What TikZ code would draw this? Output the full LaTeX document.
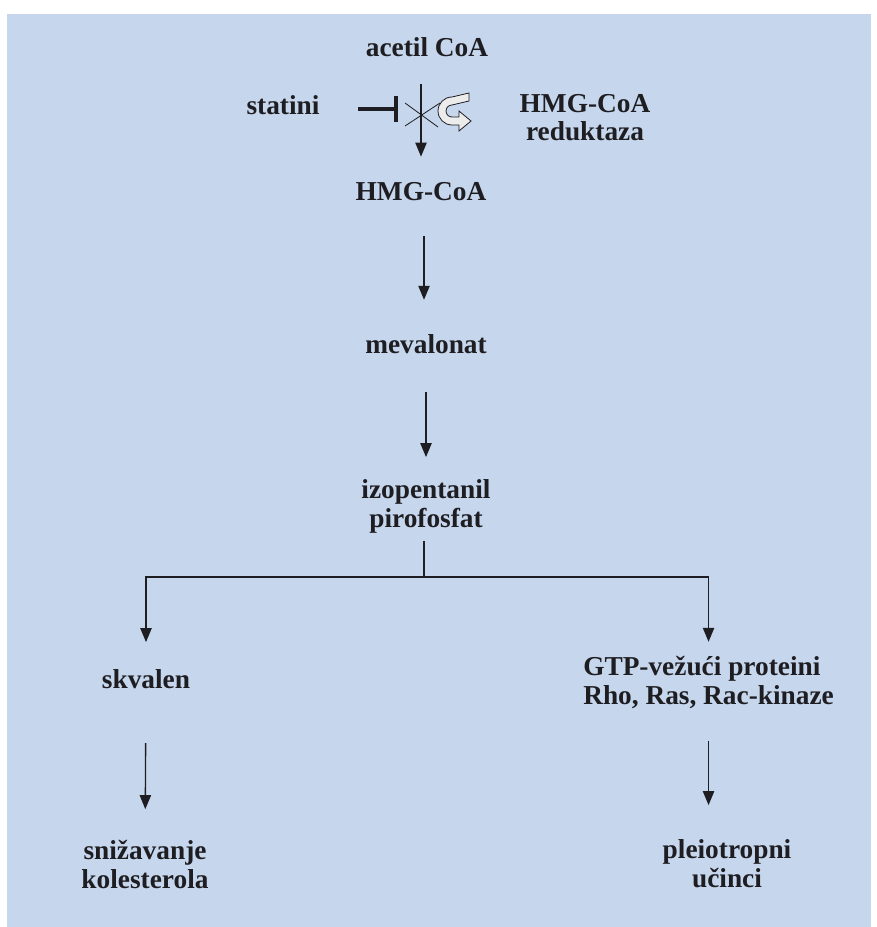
\documentclass[tikz,border=0pt]{standalone}
\usepackage{fontspec}
\setmainfont{Liberation Serif}
\usetikzlibrary{arrows.meta}
\definecolor{bgblue}{RGB}{198,214,236}
\definecolor{ink}{RGB}{30,30,34}

\begin{document}
\begin{tikzpicture}[x=0.75pt,y=-0.75pt]
\tikzset{lbl/.style={font=\bfseries\fontsize{20.5}{21.5}\selectfont, text=ink, inner sep=0pt, anchor=base, align=center},
  arr/.style={-{Triangle[length=10.5pt,width=8.5pt]}, line width=1pt, draw=ink},
  inh/.style={-{Bar[width=20pt,line width=3pt]}, line width=2.6pt, draw=ink}}
\useasboundingbox (0,0) rectangle (876,927);
\fill[bgblue] (7,14) rectangle (871,927);

% base = last line
\node[lbl] (i1) at (427,57) {acetil CoA};
\node[lbl] (s1) at (283,115) {statini};
\node[lbl] (e1) at (585,141) {HMG-CoA\\reduktaza};
\node[lbl] (v1) at (421,201) {HMG-CoA};
\node[lbl] (v2) at (426,353) {mevalonat};
\node[lbl] (v3) at (426,527) {izopentanil\\pirofosfat};
\node[lbl] (o1) at (146,688) {skvalen};
\node[lbl, anchor=base west, align=left] (o2) at (583,704) {GTP-vežući proteini\\Rho, Ras, Rac-kinaze};
\node[lbl] (o3) at (145,888) {snižavanje\\kolesterola};
\node[lbl] (o4) at (727,887) {pleiotropni\\učinci};
\coordinate (k1) at (398,109);
\coordinate (c1) at (424,577);

% enzyme step
\draw[arr, shorten <=20pt, shorten >=19.5pt] (v1.north |- i1.south) -- (v1.north);
\draw[inh, shorten <=29pt] (s1.east |- k1) -- (k1);
\draw[line width=0.6pt, ink] (405,103) -- (438,127) (405,126) -- (440,103);
\filldraw[fill=gray!15, draw=ink, line width=0.6pt] (469,93) -- (469,101) -- (452,105)
  arc[start angle=270, end angle=90, radius=6] -- (459,117) -- (459,111) -- (471,121)
  -- (459,131) -- (459,125) -- (452,125) arc[start angle=90, end angle=270, radius=14] -- cycle;

\draw[arr, shorten <=26pt, shorten >=25.5pt] (v1.south -| c1) -- (v2.north -| c1);
\draw[arr, shorten <=29pt, shorten >=16.5pt] (v2.south -| v2.north) -- (v2.north |- v3.north);

% branches
\draw[line width=1pt, ink, shorten <=6pt] (v3.south -| c1) -- (c1);
\draw[arr, shorten >=20pt] (c1) -| (o1);
\draw[arr, shorten >=10.5pt] (c1) -| (o2);
\draw[arr, shorten <=41pt, shorten >=23pt] (o1) -- (o3);
\draw[arr, shorten <=24pt, shorten >=25.5pt] (o2.south) -- (o2.south |- o4.north);
\end{tikzpicture}
\end{document}
